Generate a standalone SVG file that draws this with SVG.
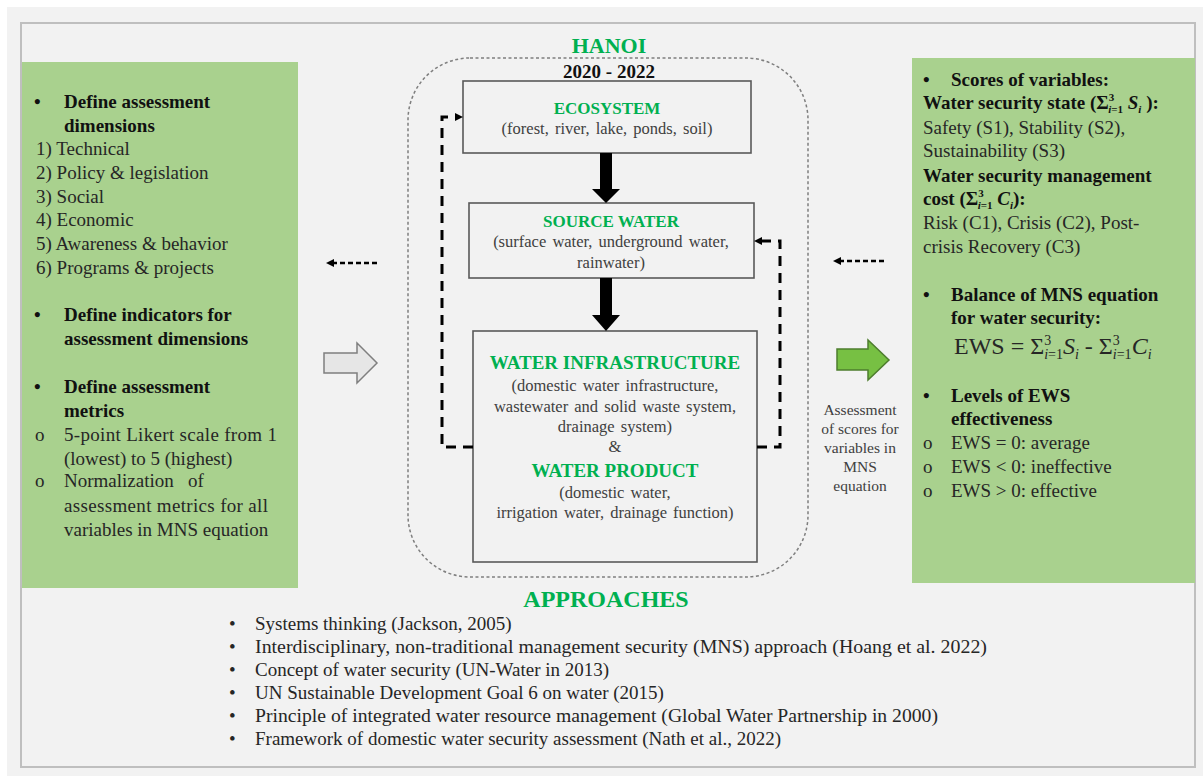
<svg xmlns="http://www.w3.org/2000/svg" width="1203" height="776" viewBox="0 0 1203 776">
<defs>
<style>
text{font-family:"Liberation Serif","Times New Roman",serif;fill:#262626}
.b{font-weight:bold;fill:#111}
.l{font-size:19px}
.g{fill:#00b050;font-weight:bold}
.box{fill:#f2f2f2;stroke:#595959;stroke-width:1.6}
.in{font-size:16.5px;fill:#404040;text-anchor:middle;word-spacing:2px}
.green{fill:#a9d18e}
.loop{fill:none;stroke:#000;stroke-width:3;stroke-dasharray:10 7}
.small{fill:none;stroke:#000;stroke-width:2.5;stroke-dasharray:5 3}
.cap{font-size:15.5px;fill:#404040;text-anchor:middle}
.sub{font-size:11px}
</style>
<marker id="ah" viewBox="0 0 8 8" markerWidth="8" markerHeight="8" refX="2" refY="4" orient="auto" markerUnits="userSpaceOnUse">
<path d="M0,0 L8,4 L0,8 z" fill="#000"/>
</marker>
</defs>
<rect x="0" y="0" width="1203" height="776" fill="#ffffff"/>
<rect x="7" y="7" width="1196" height="769" fill="#f2f2f2"/>
<rect id="frame" x="21" y="23" width="1174" height="744" fill="#f2f2f2" stroke="#bfbfbf" stroke-width="2"/>

<g id="left-panel">
<rect class="green" x="22" y="62" width="276" height="526"/>
<text class="l b" x="34" y="108">•</text>
<text class="l b" x="64" y="108">Define assessment</text>
<text class="l b" x="64" y="132">dimensions</text>
<text class="l" x="36" y="155">1) Technical</text>
<text class="l" x="36" y="179">2) Policy &amp; legislation</text>
<text class="l" x="36" y="203">3) Social</text>
<text class="l" x="36" y="226">4) Economic</text>
<text class="l" x="36" y="250">5) Awareness &amp; behavior</text>
<text class="l" x="36" y="274">6) Programs &amp; projects</text>
<text class="l b" x="34" y="321">•</text>
<text class="l b" x="64" y="321">Define indicators for</text>
<text class="l b" x="64" y="345">assessment dimensions</text>
<text class="l b" x="34" y="393">•</text>
<text class="l b" x="64" y="393">Define assessment</text>
<text class="l b" x="64" y="417">metrics</text>
<text class="l" x="35" y="441">o</text>
<text class="l" x="64" y="441" textLength="213" lengthAdjust="spacing">5-point Likert scale from 1</text>
<text class="l" x="64" y="465">(lowest) to 5 (highest)</text>
<text class="l" x="35" y="487">o</text>
<text class="l" x="64" y="487">Normalization</text>
<text class="l" x="188" y="487">of</text>
<text class="l" x="64" y="512" textLength="204" lengthAdjust="spacing">assessment metrics for all</text>
<text class="l" x="64" y="536">variables in MNS equation</text>
</g>

<g id="hanoi">
<rect x="408" y="58" width="400" height="519" rx="62" ry="62" fill="none" stroke="#7f7f7f" stroke-width="1.5" stroke-dasharray="3 2.5"/>
<text class="g" x="609" y="53" font-size="22" text-anchor="middle">HANOI</text>
<text class="b" x="609" y="78" font-size="19" text-anchor="middle">2020 - 2022</text>
</g>

<g id="ecosystem">
<rect class="box" x="463" y="81" width="288" height="72"/>
<text class="g" x="607" y="114" font-size="17" text-anchor="middle">ECOSYSTEM</text>
<text class="in" x="607" y="134">(forest, river, lake, ponds, soil)</text>
</g>

<g id="source-water">
<rect class="box" x="469" y="203" width="285" height="75"/>
<text class="g" x="611" y="227" font-size="17" text-anchor="middle">SOURCE WATER</text>
<text class="in" x="611" y="247">(surface water, underground water,</text>
<text class="in" x="611" y="268">rainwater)</text>
</g>

<g id="infrastructure">
<rect class="box" x="473" y="331" width="284" height="231"/>
<text class="g" x="615" y="369" font-size="19" text-anchor="middle">WATER INFRASTRUCTURE</text>
<text class="in" x="615" y="391">(domestic water infrastructure,</text>
<text class="in" x="615" y="412">wastewater and solid waste system,</text>
<text class="in" x="615" y="432">drainage system)</text>
<text class="in" x="615" y="452">&amp;</text>
<text class="g" x="615" y="477" font-size="19" text-anchor="middle">WATER PRODUCT</text>
<text class="in" x="615" y="498">(domestic water,</text>
<text class="in" x="615" y="518">irrigation water, drainage function)</text>
</g>

<g id="right-panel">
<rect class="green" x="912" y="58" width="283" height="525"/>
<text class="l b" x="923" y="86">•</text>
<text class="l b" x="951" y="86">Scores of variables:</text>
<text class="l b" x="923" y="109">Water security state (Σ<tspan class="sub" dy="-8">3</tspan><tspan class="sub" dx="-6" dy="12" font-style="italic">i</tspan><tspan class="sub">=1</tspan><tspan dy="-4" font-style="italic"> S</tspan><tspan class="sub" dy="4" font-style="italic">i</tspan><tspan dy="-4"> ):</tspan></text>
<text class="l" x="923" y="134">Safety (S1), Stability (S2),</text>
<text class="l" x="923" y="157">Sustainability (S3)</text>
<text class="l b" x="923" y="182">Water security management</text>
<text class="l b" x="923" y="205">cost (Σ<tspan class="sub" dy="-8">3</tspan><tspan class="sub" dx="-6" dy="12" font-style="italic">i</tspan><tspan class="sub">=1</tspan><tspan dy="-4" font-style="italic"> C</tspan><tspan class="sub" dy="4" font-style="italic">i</tspan><tspan dy="-4">):</tspan></text>
<text class="l" x="923" y="229">Risk (C1), Crisis (C2), Post-</text>
<text class="l" x="923" y="253">crisis Recovery (C3)</text>
<text class="l b" x="923" y="301">•</text>
<text class="l b" x="951" y="301">Balance of MNS equation</text>
<text class="l b" x="951" y="324">for water security:</text>
<text x="954" y="354" font-size="24" fill="#1a1a1a">EWS = Σ<tspan font-size="14" dy="-9">3</tspan><tspan font-size="14" dx="-7" dy="14" font-style="italic">i</tspan><tspan font-size="14">=1</tspan><tspan dy="-5" font-style="italic">S</tspan><tspan font-size="14" dy="5" font-style="italic">i</tspan><tspan dy="-5"> - Σ</tspan><tspan font-size="14" dy="-9">3</tspan><tspan font-size="14" dx="-7" dy="14" font-style="italic">i</tspan><tspan font-size="14">=1</tspan><tspan dy="-5" font-style="italic">C</tspan><tspan font-size="14" dy="5" font-style="italic">i</tspan></text>
<text class="l b" x="923" y="402">•</text>
<text class="l b" x="951" y="402">Levels of EWS</text>
<text class="l b" x="951" y="425">effectiveness</text>
<text class="l" x="923" y="449">o</text>
<text class="l" x="951" y="449">EWS = 0: average</text>
<text class="l" x="923" y="473">o</text>
<text class="l" x="951" y="473">EWS &lt; 0: ineffective</text>
<text class="l" x="923" y="497">o</text>
<text class="l" x="951" y="497">EWS &gt; 0: effective</text>
</g>

<g id="assessment-caption">
<text class="cap" x="860" y="415">Assessment</text>
<text class="cap" x="860" y="434">of scores for</text>
<text class="cap" x="860" y="453">variables in</text>
<text class="cap" x="860" y="472">MNS</text>
<text class="cap" x="860" y="491">equation</text>
</g>

<g id="approaches">
<text class="g" x="606" y="607" font-size="24" text-anchor="middle">APPROACHES</text>
<g font-size="19">
<text x="229" y="630">•</text><text x="255" y="630">Systems thinking (Jackson, 2005)</text>
<text x="229" y="653">•</text><text x="255" y="653" textLength="732" lengthAdjust="spacingAndGlyphs">Interdisciplinary, non-traditional management security (MNS) approach (Hoang et al. 2022)</text>
<text x="229" y="676">•</text><text x="255" y="676">Concept of water security (UN-Water in 2013)</text>
<text x="229" y="699">•</text><text x="255" y="699">UN Sustainable Development Goal 6 on water (2015)</text>
<text x="229" y="722">•</text><text x="255" y="722" textLength="683" lengthAdjust="spacingAndGlyphs">Principle of integrated water resource management (Global Water Partnership in 2000)</text>
<text x="229" y="745">•</text><text x="255" y="745">Framework of domestic water security assessment (Nath et al., 2022)</text>
</g>
</g>

<g id="connectors">
<polygon points="600,153 612,153 612,189 620,189 606,203 592,189 600,189" fill="#000"/>
<polygon points="600,278 612,278 612,315 620,315 606,331 592,315 600,315" fill="#000"/>
<path class="loop" d="M473,447 H442 V117 H457" marker-end="url(#ah)"/>
<path class="loop" d="M757,447 H780 V241 H760" marker-end="url(#ah)"/>
<path class="small" d="M377,263 H332" marker-end="url(#ah)"/>
<path class="small" d="M884,261 H839" marker-end="url(#ah)"/>
<polygon points="324,353 357,353 357,343 377,363 357,383 357,373 324,373" fill="#e6e6e6" stroke="#7f7f7f" stroke-width="1.5"/>
<polygon points="837,349 868,349 868,340 889,360 868,380 868,370 837,370" fill="#77c043" stroke="#4e7d2e" stroke-width="1.5"/>
</g>
</svg>
